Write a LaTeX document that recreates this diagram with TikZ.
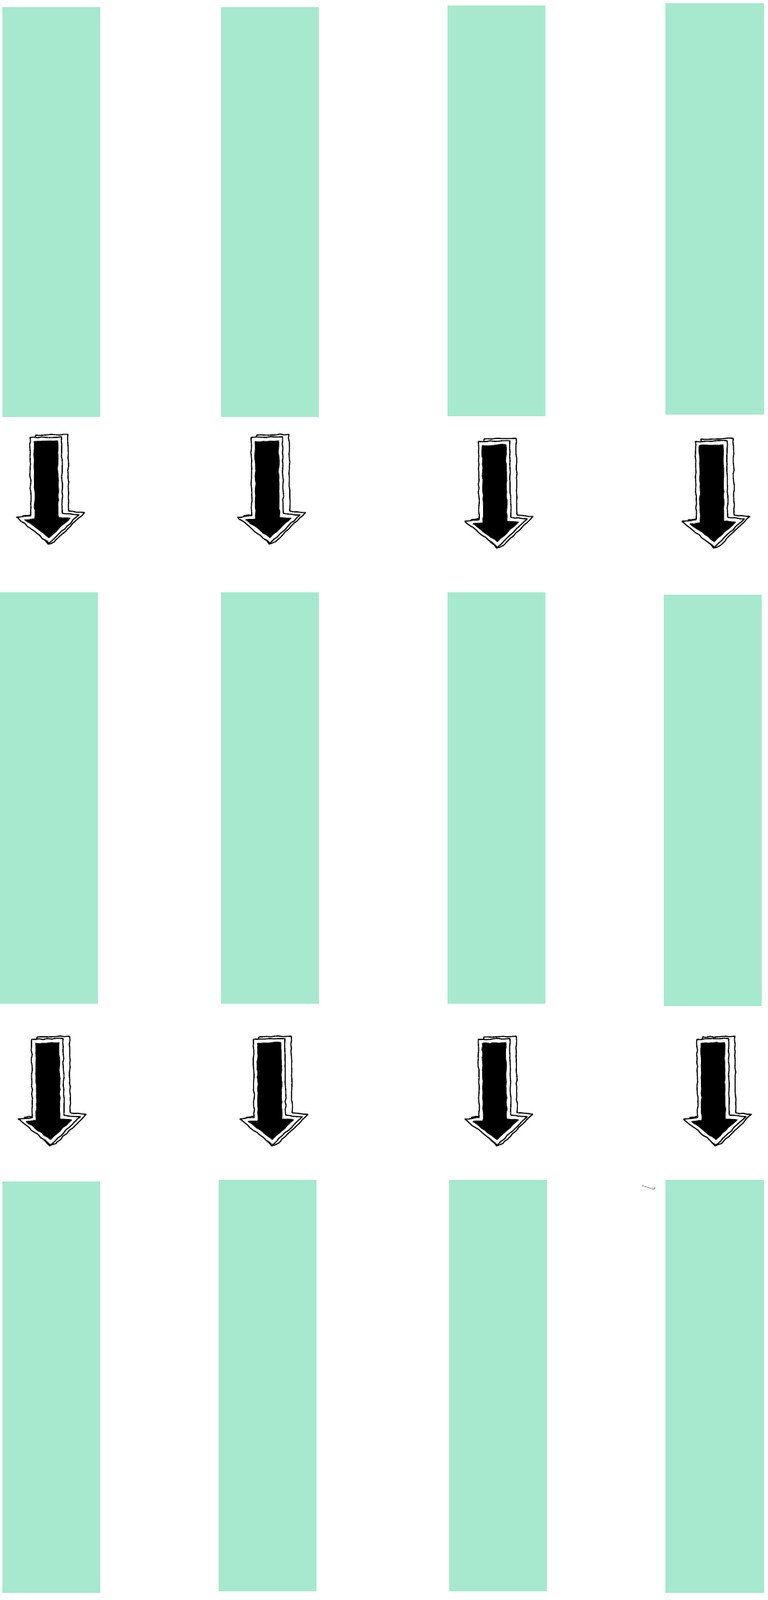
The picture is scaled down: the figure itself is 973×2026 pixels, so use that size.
\documentclass[tikz,border=0pt]{standalone}
\usetikzlibrary{decorations.pathmorphing}
\definecolor{barfill}{HTML}{A6E9CF}
\tikzset{
  bar/.style={fill=barfill, draw=none, inner sep=0pt, outer sep=0pt, anchor=north west},
  rough/.style={decorate, decoration={random steps, segment length=5pt, amplitude=0.7pt}},
  arrline/.style={draw=black, line width=1.4pt, fill=white, line join=round, rough},
  arrink/.style={fill=black, draw=black, line width=0.8pt, line join=round, rough},
  pics/sketcharrow/.style={code={
    \path[arrline] (24,2) -- (65,1) -- (66,98) -- (86,100) -- (48,137) -- (40,140) -- (8,104) -- (24,102) -- cycle;
    \path[arrline] (17,5) -- (57,4) -- (58,101) -- (79,103) -- (41,139) -- (0,106) -- (18,104) -- cycle;
    \path[arrink] (22,10) -- (52,9) -- (53,106) -- (68,107) -- (41,132) -- (10,109) -- (23,108) -- cycle;
  }}
}
\begin{document}
\begin{tikzpicture}[x=1pt,y=-1pt]
\useasboundingbox (0,0) rectangle (973,2026);
\fill[white] (0,0) rectangle (973,2026);
% row 1
\node[bar, minimum width=124pt, minimum height=519pt] (b11) at (2.6,9) {};
\node[bar, minimum width=124pt, minimum height=519pt] (b12) at (280,9) {};
\node[bar, minimum width=124pt, minimum height=520pt] (b13) at (567,7) {};
\node[bar, minimum width=125pt, minimum height=521pt] (b14) at (843,4) {};
% row 2
\node[bar, minimum width=124pt, minimum height=521pt] (b21) at (0,749.5) {};
\node[bar, minimum width=124pt, minimum height=521pt] (b22) at (280,749.5) {};
\node[bar, minimum width=124pt, minimum height=521pt] (b23) at (567,749.5) {};
\node[bar, minimum width=124pt, minimum height=521pt] (b24) at (841,753) {};
% row 3
\node[bar, minimum width=124pt, minimum height=521pt] (b31) at (2.6,1496) {};
\node[bar, minimum width=124pt, minimum height=521pt] (b32) at (276.5,1494) {};
\node[bar, minimum width=124pt, minimum height=521pt] (b33) at (568.5,1494) {};
\node[bar, minimum width=125pt, minimum height=523pt] (b34) at (843,1494) {};
% arrows
\pic at (21,549) {sketcharrow};
\pic at (301,549) {sketcharrow};
\pic at (589,554) {sketcharrow};
\pic at (864,554) {sketcharrow};
\pic at (23,1311) {sketcharrow};
\pic at (304,1311) {sketcharrow};
\pic at (589,1311) {sketcharrow};
\pic at (866,1311) {sketcharrow};
% stray mark
\draw[gray, line width=0.7pt] (813,1501) -- (829,1506) -- (830,1503);
\end{tikzpicture}
\end{document}
